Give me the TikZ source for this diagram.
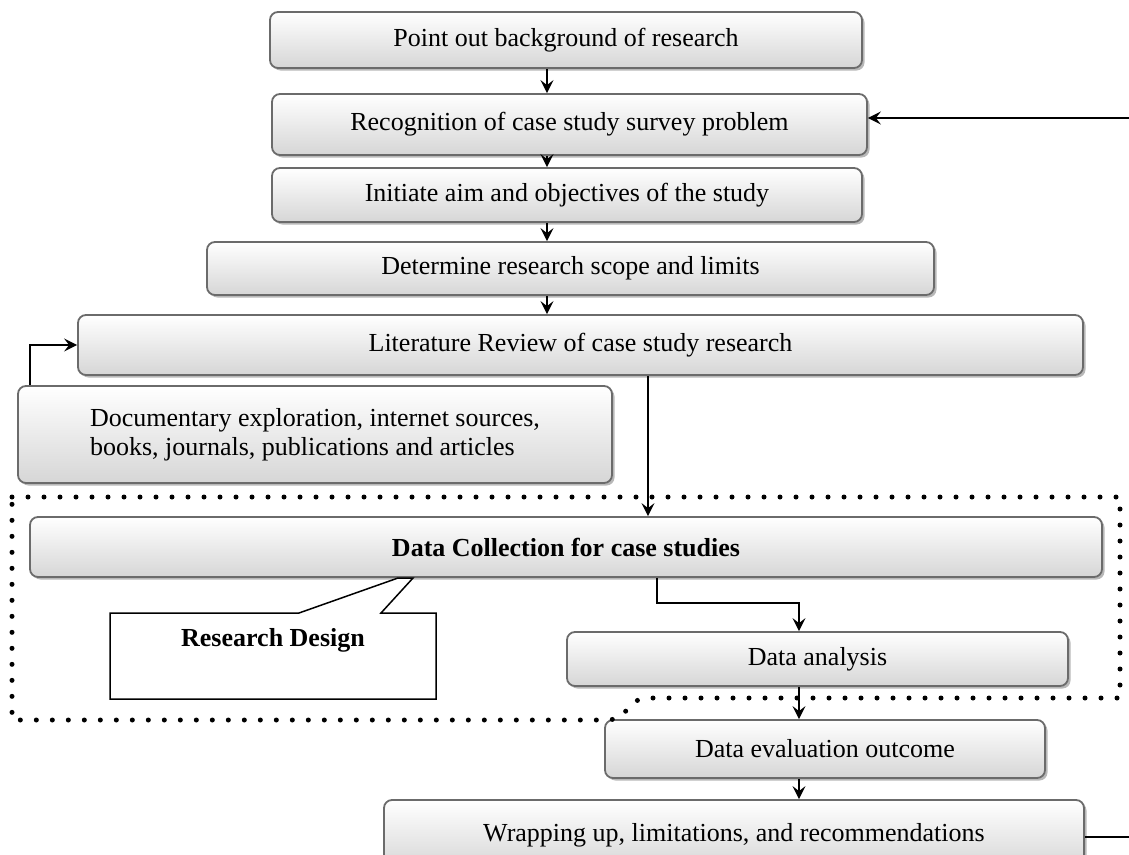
\documentclass[tikz,border=0pt]{standalone}
\usepackage{fontspec}
\setmainfont{Liberation Serif}
\usetikzlibrary{arrows.meta,shadows}
\definecolor{boxline}{HTML}{6B6B6B}
\definecolor{boxbot}{HTML}{D6D6D6}
\begin{document}
\begin{tikzpicture}[x=1pt,y=-1pt,
  every node/.style={font=\fontsize{26pt}{28.5pt}\selectfont},
  flowbox/.style={draw=boxline, line width=1.8pt, rounded corners=8pt,
    top color=white, bottom color=boxbot, inner sep=0pt,
    drop shadow={shadow xshift=2.5pt, shadow yshift=-2.5pt, fill=black!28, opacity=1}},
  arr/.style={line width=1.6pt, -{Stealth[length=13pt,width=13pt,inset=5pt]}},
  plainline/.style={line width=1.5pt},
  dotline/.style={line width=5pt, dash pattern=on 0pt off 16pt, line cap=round},
  calloutshape/.style={draw=black, line width=1.5pt, fill=white, line join=miter}
]
\useasboundingbox (0,0) rectangle (1129,854);

% boxes
\node[flowbox, minimum width=592pt, minimum height=56pt] (b1) at (566,40) {Point out background of research};
\node[flowbox, minimum width=595pt, minimum height=61pt] (b2) at (569.5,124.5) {Recognition of case study survey problem};
\node[flowbox, minimum width=590pt, minimum height=54pt] (b3) at (567,195) {Initiate aim and objectives of the study};
\node[flowbox, minimum width=727pt, minimum height=53pt] (b4) at (570.5,268.5) {Determine research scope and limits};
\node[flowbox, minimum width=1005pt, minimum height=60pt] (b5) at (580.5,345) {Literature Review of case study research};
\node[flowbox, minimum width=594pt, minimum height=97pt, align=left] (b6) at (315,434.5) {Documentary exploration, internet sources,\\books, journals, publications and articles};
\node[flowbox, minimum width=1072pt, minimum height=60pt] (b7) at (566,547) {\bfseries Data Collection for case studies};
\node[flowbox, minimum width=501pt, minimum height=54pt] (b8) at (817.5,659) {Data analysis};
\node[flowbox, minimum width=440pt, minimum height=58pt] (b9) at (825,749) {Data evaluation outcome};
\node[flowbox, minimum width=700pt, minimum height=70pt] (b10) at (734,835) {Wrapping up, limitations, and recommendations};

% callout
\draw[calloutshape] (110,613) -- (299,613) -- (398,578) -- (413,578) -- (381,613) -- (436,613) -- (436,699) -- (110,699) -- cycle;
\node[inner sep=0pt] (rd) at (273,640) {\bfseries Research Design};

% columns for connectors
\coordinate (colA) at (547,0);
\coordinate (colB) at (648,0);
\coordinate (colC) at (657,0);
\coordinate (colD) at (799,0);
\coordinate (docx) at (30,0);
\coordinate (fbR) at (1129,118);
\coordinate (wrR) at (1129,837);

% connectors
\draw[arr] (b1.south -| colA) -- (b2.north -| colA);
\draw[arr] (b2.south -| colA) -- (b3.north -| colA);
\draw[arr] (b3.south -| colA) -- (b4.north -| colA);
\draw[arr] (b4.south -| colA) -- (b5.north -| colA);
\draw[arr] (fbR) -- (fbR -| b2.east);
\draw[arr] (b6.north -| docx) |- (b5.west);
\draw[arr] (b5.south -| colB) -- (b7.north -| colB);
\draw[arr] (b7.south -| colC) -- ++(0,25) -| (b8.north -| colD);
\draw[arr] (b8.south -| colD) -- (b9.north -| colD);
\draw[arr] (b9.south -| colD) -- (b10.north -| colD);
\draw[plainline] (wrR -| b10.east) -- (wrR);

% dotted region
\draw[dotline] (12,497) -- (1120,497) -- (1120,698) -- (647,698)
  .. controls (628,698) and (628,720) .. (607,720) -- (12,720) -- cycle;
\end{tikzpicture}
\end{document}
